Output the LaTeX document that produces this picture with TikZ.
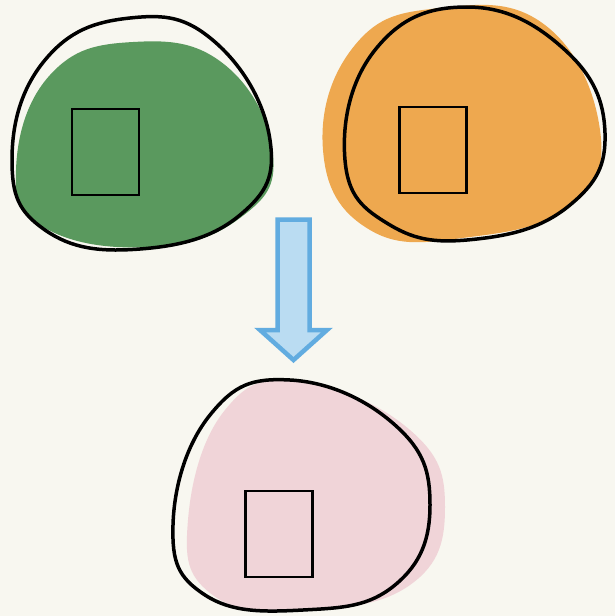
\documentclass[tikz,border=0pt]{standalone}
\usepackage{tikz}
\usetikzlibrary{positioning}
\definecolor{paper}{HTML}{F8F7F0}
\definecolor{leaf}{HTML}{5A995E}
\definecolor{amber}{HTML}{EEA84F}
\definecolor{blush}{HTML}{F0D4D8}
\definecolor{sky}{HTML}{BADCF2}
\definecolor{skyline}{HTML}{62ACE0}
\tikzset{
  blobline/.style={draw=black, line width=3.5pt},
  glyphbox/.style={draw=black, line width=2.2pt, minimum width=67pt, minimum height=86pt, inner sep=0pt}
}

\begin{document}
\begin{tikzpicture}[x=1pt, y=-1pt]
        \useasboundingbox (0,0) rectangle (615,616);
        \fill[paper] (0,0) rectangle (615,616);
        % Gruen
        \fill[leaf] plot[smooth cycle, tension=0.75] coordinates {(133,42) (225,65) (273,155) (240,218) (150,247) (45,228) (16,170) (50,75)};
        \draw[blobline] plot[smooth cycle, tension=0.75] coordinates {(130,18) (215,42) (270,140) (240,215) (140,249) (45,230) (12,160) (45,60)};
        \node[glyphbox] (gbox) at (105.5,152) {};
        % Orange
        \fill[amber] plot[smooth cycle, tension=0.75] coordinates {(440,8) (545,25) (600,130) (570,205) (470,237) (370,230) (323,150) (355,45)};
        \draw[blobline] plot[smooth cycle, tension=0.75] coordinates {(467,7) (565,50) (605,133) (570,205) (477,239) (390,225) (345,160) (375,50)};
        \node[glyphbox] (obox) at (433,150) {};
        % Pfeil nach unten
        \draw[skyline, fill=sky, line width=4.5pt, line join=miter]
          (277.5,219.5) -- (309.5,219.5) -- (309.5,330) -- (327,330) -- (293.5,360)
          -- (260,330) -- (277.5,330) -- cycle;
        % Rosa
        \fill[blush] plot[smooth cycle, tension=0.75] coordinates {(300,382) (410,430) (445,507) (410,585) (300,610) (210,593) (188,520) (225,410)};
        \draw[blobline] plot[smooth cycle, tension=0.75] coordinates {(290,380) (395,425) (430,505) (395,585) (303,610) (205,595) (173,525) (210,415)};
        \node[glyphbox] (pbox) at (279,534) {};
      \end{tikzpicture}
\end{document}
